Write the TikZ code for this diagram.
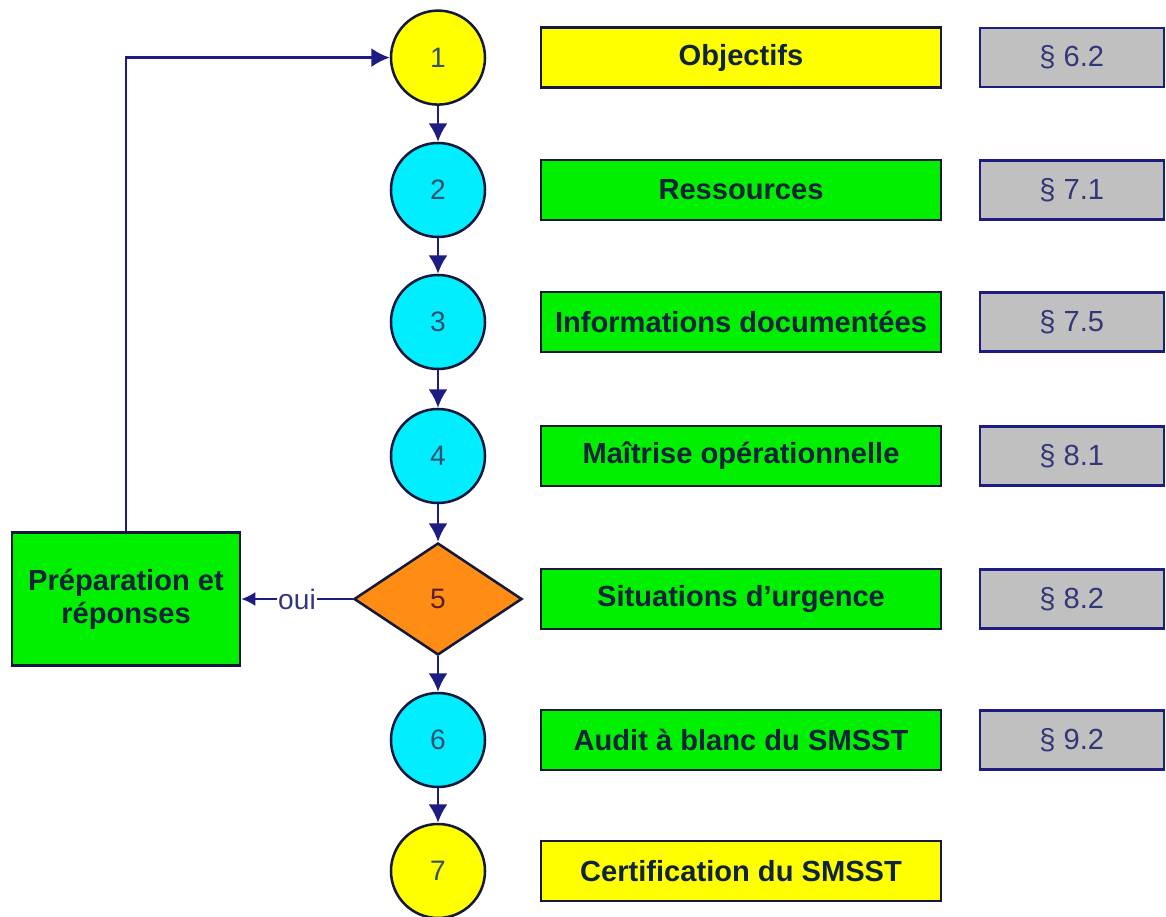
\documentclass[tikz,border=0pt]{standalone}
\usepackage{fontspec}
\setmainfont{Liberation Sans}
\usetikzlibrary{shapes.geometric,arrows.meta,positioning}
\definecolor{navyline}{RGB}{28,28,130}
\definecolor{darkedge}{RGB}{20,25,60}
\definecolor{boxtext}{RGB}{15,35,60}
\definecolor{numtext}{RGB}{55,80,110}
\definecolor{numfive}{RGB}{90,30,40}
\definecolor{reftext}{RGB}{50,55,120}
\definecolor{stepyellow}{RGB}{255,255,0}
\definecolor{stepcyan}{RGB}{0,238,255}
\definecolor{stepgreen}{RGB}{0,240,0}
\definecolor{steporange}{RGB}{255,140,20}
\definecolor{refgray}{RGB}{192,192,192}
\tikzset{
	node distance=3.3cm,
	>={Latex[length=4.6mm,width=4.8mm]},
	etape/.style={
		circle,
		draw=darkedge,
		line width=1.8pt,
		minimum size=2.35cm,
		inner sep=0pt,
		fill=stepcyan,
		text=numtext,
		font=\fontsize{20pt}{24pt}\selectfont
	},
	tache/.style={
		rectangle,
		draw=darkedge,
		line width=1.8pt,
		minimum width=10cm,
		minimum height=1.5cm,
		fill=stepgreen,
		text=boxtext,
		font=\fontsize{20.7pt}{23.5pt}\selectfont\bfseries
	},
	renvoi/.style={
		rectangle,
		draw=navyline,
		line width=1.8pt,
		minimum width=4.6cm,
		minimum height=1.48cm,
		fill=refgray,
		text=reftext,
		font=\fontsize{20.7pt}{24pt}\selectfont
	}
}

\begin{document}
\begin{tikzpicture}[line width=2pt]
		\useasboundingbox (0,0) rectangle (29.15,-22.925);

		\node [etape, fill=stepyellow] (c1) at (10.95,-1.44) {1};
		\node [etape, below of=c1, node distance=3.31cm] (c2) {2};
		\node [etape, below of=c2] (c3) {3};
		\node [etape, below of=c3, node distance=3.35cm] (c4) {4};
		\node [diamond, draw=darkedge, line width=1.8pt, fill=steporange, minimum width=4.2cm, minimum height=2.8cm, inner sep=0pt, text=numfive, font=\fontsize{20pt}{24pt}\selectfont, below of=c4, node distance=3.575cm] (d5) {5};
		\node [etape, below of=d5, node distance=3.525cm] (c6) {6};
		\node [etape, fill=stepyellow, below of=c6, node distance=3.275cm] (c7) {7};

		\node [tache, fill=stepyellow, right of=c1, node distance=7.575cm] (objectifs) {Objectifs};
		\node [tache, right of=c2, node distance=7.575cm] (ressources) {Ressources};
		\node [tache, right of=c3, node distance=7.575cm] (informations) {Informations documentées};
		\node [tache, right of=c4, node distance=7.575cm] (maitrise) {Maîtrise opérationnelle};
		\node [tache, right of=d5, node distance=7.575cm] (urgence) {Situations d’urgence};
		\node [tache, right of=c6, node distance=7.575cm] (audit) {Audit à blanc du SMSST};
		\node [tache, fill=stepyellow, right of=c7, node distance=7.575cm] (certification) {Certification du SMSST};

		\node [renvoi, right of=objectifs, node distance=8.27cm] (ref-obj) {§ 6.2};
		\node [renvoi, right of=ressources, node distance=8.27cm] (ref-res) {§ 7.1};
		\node [renvoi, right of=informations, node distance=8.27cm] (ref-info) {§ 7.5};
		\node [renvoi, right of=maitrise, node distance=8.27cm] (ref-mait) {§ 8.1};
		\node [renvoi, right of=urgence, node distance=8.27cm] (ref-urg) {§ 8.2};
		\node [renvoi, right of=audit, node distance=8.27cm] (ref-audit) {§ 9.2};

		\node [tache, left of=d5, node distance=7.8cm, minimum width=5.7cm, minimum height=3.325cm, align=center] (preparation) {Préparation et\\réponses};

		\draw [->, navyline] (c1) -- (c2);
		\draw [->, navyline] (c2) -- (c3);
		\draw [->, navyline] (c3) -- (c4);
		\draw [->, navyline] (c4) -- (d5);
		\draw [->, navyline] (d5) -- (c6);
		\draw [->, navyline] (c6) -- (c7);

		% retour vers l'etape 1
		\draw [->, navyline] (preparation.north) |- (c1);
		\draw [->, navyline, line width=1.5pt, >={Latex[length=3.5mm,width=3.5mm]}] (d5) -- node [fill=white, inner sep=1pt, text=reftext, font=\fontsize{20pt}{22pt}\selectfont] (oui) {oui} (preparation);
	\end{tikzpicture}
\end{document}
